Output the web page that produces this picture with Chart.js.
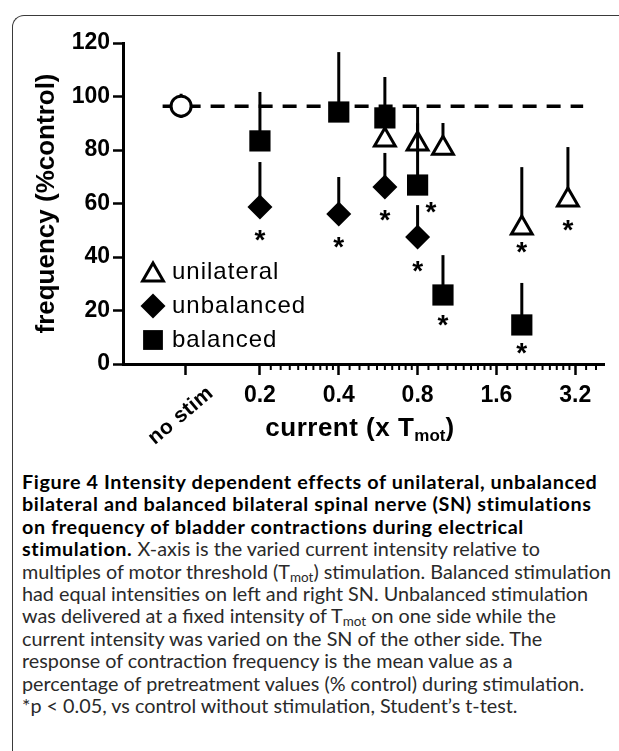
<!DOCTYPE html>
<html>
<head>
<meta charset="utf-8">
<script src="https://cdn.jsdelivr.net/npm/chart.js@4.4.1/dist/chart.umd.min.js"></script>
<style>
  html, body { margin: 0; padding: 0; background: #fff; overflow: hidden; }
  #page { position: relative; width: 619px; height: 751px; overflow: hidden; }
  #frame {
    position: absolute; left: 12px; top: 15px; width: 640px; height: 780px;
    border-left: 1.5px solid #3a3a3a; border-top: 1.5px solid #3a3a3a;
    border-top-left-radius: 12px; box-sizing: border-box;
  }
  #plot { position: absolute; left: 0; top: 0; }
  #xtitle {
    position: absolute; left: 0; width: 720px; top: 414px; text-align: center;
    font: bold 26px 'Liberation Sans', Arial, sans-serif; line-height: 26px;
    letter-spacing: 0.5px; color: #000;
  }
  #xtitle sub { font-size: 17px; vertical-align: -5px; line-height: 0; letter-spacing: 0; }
  #caption {
    position: absolute; left: 22px; top: 470px; white-space: nowrap;
    font-family: Lato, 'Open Sans', sans-serif; font-size: 19.8px; line-height: 22.4px; color: #2a2a2a;
  }
  #caption b { color: #000; letter-spacing: 0.6px; }
  #caption sub { font-size: 0.68em; vertical-align: -0.25em; line-height: 0; }
</style>
</head>
<body>
<div id="page">
  <div id="frame"></div>
  <canvas id="plot" width="619" height="450"></canvas>
  <div id="xtitle">current (x T<sub>mot</sub>)</div>
  <div id="caption">
    <b>Figure 4 Intensity dependent effects of unilateral, unbalanced</b><br>
    <b>bilateral and balanced bilateral spinal nerve (SN) stimulations</b><br>
    <b>on frequency of bladder contractions during electrical</b><br>
    <b>stimulation.</b> X-axis is the varied current intensity relative to<br>
    multiples of motor threshold (T<sub>mot</sub>) stimulation. Balanced stimulation<br>
    had equal intensities on left and right SN. Unbalanced stimulation<br>
    was delivered at a fixed intensity of T<sub>mot</sub> on one side while the<br>
    current intensity was varied on the SN of the other side. The<br>
    response of contraction frequency is the mean value as a<br>
    percentage of pretreatment values (% control) during stimulation.<br>
    *p &lt; 0.05, vs control without stimulation, Student’s t-test.
  </div>
</div>
<script>
const FONT = "'Liberation Sans', Arial, sans-serif";

// x axis (current, x Tmot) - log scale; first tick is the "no stim" control
const TICK_VALUES = [0.104, 0.2, 0.4, 0.8, 1.6, 3.2];
const TICK_LABELS = ['no stim', '0.2', '0.4', '0.8', '1.6', '3.2'];
const Y_TICKS = [0, 20, 40, 60, 80, 100, 120];

// control (no stimulation) and its reference line
const CONTROL_X = [0.1];
const CONTROL_Y = [96.4];
const CONTROL_HI = [101];
const CONTROL_LO = [92];
const REF_LINE_X = [0.085, 3.43];
const REF_LINE_Y = [96.4, 96.4];

// mean frequency (% control) and upper error bar end
const UNILATERAL_X = [0.6, 0.8, 1.0, 2.0, 3.0];
const UNILATERAL_Y = [83.7, 82.2, 80.7, 50.8, 61.3];
const UNILATERAL_HI = [90, 90, 90.1, 73.6, 81.1];

const UNBALANCED_X = [0.2, 0.4, 0.6, 0.8];
const UNBALANCED_Y = [58.7, 56.1, 66.2, 47.5];
const UNBALANCED_HI = [75.5, 69.9, 78.9, 59.4];

const BALANCED_X = [0.2, 0.4, 0.6, 0.8, 1.0, 2.0];
const BALANCED_Y = [83.4, 94.2, 92.0, 66.9, 25.8, 14.6];
const BALANCED_HI = [101.7, 116.6, 107.3, 96.1, 40.7, 30.3];

// significance markers (*p < 0.05)
const STAR_X = [0.2, 0.4, 0.6, 0.9, 0.8, 1.0, 2.0, 2.0, 3.0];
const STAR_Y = [49.0, 46.4, 56.4, 59.4, 37.4, 17.2, 44.5, 6.7, 52.7];

const toPoints = (xs, ys) => xs.map((x, i) => ({ x, y: ys[i] }));

// upper (and for control also lower) error bars, drawn just before each dataset
const errorBars = {
  id: 'errorBars',
  beforeDatasetDraw(chart, args) {
    const ds = chart.data.datasets[args.index];
    if (!ds.hi) return;
    const { ctx, scales: { x, y } } = chart;
    ctx.save();
    ctx.strokeStyle = '#000';
    ctx.lineWidth = 3;
    ds.data.forEach((p, i) => {
      const px = x.getPixelForValue(p.x);
      ctx.beginPath();
      ctx.moveTo(px, y.getPixelForValue(p.y));
      ctx.lineTo(px, y.getPixelForValue(ds.hi[i]));
      if (ds.lo) {
        ctx.moveTo(px, y.getPixelForValue(p.y));
        ctx.lineTo(px, y.getPixelForValue(ds.lo[i]));
      }
      ctx.stroke();
    });
    ctx.restore();
  }
};

// minor log ticks, rotated "no stim" label, asterisks and inset legend
const decorations = {
  id: 'decorations',
  afterDraw(chart) {
    const { ctx, chartArea, scales: { x, y } } = chart;
    ctx.save();
    ctx.strokeStyle = '#000';
    ctx.lineWidth = 2;
    const bottom = y.getPixelForValue(0);
    for (let b = 1; b < TICK_VALUES.length; b++) {
      const base = TICK_VALUES[b];
      for (let k = 1; k < 10; k++) {
        const px = x.getPixelForValue(base * (1 + k / 10));
        if (px > chartArea.right) break;
        ctx.beginPath();
        ctx.moveTo(px, bottom);
        ctx.lineTo(px, bottom + 6);
        ctx.stroke();
      }
    }

    // "no stim" label
    ctx.fillStyle = '#000';
    ctx.font = `bold 21px ${FONT}`;
    ctx.letterSpacing = '0.5px';
    ctx.translate(x.getPixelForValue(TICK_VALUES[0]) + 29, bottom + 31);
    ctx.rotate(-40 * Math.PI / 180);
    ctx.textAlign = 'right';
    ctx.textBaseline = 'alphabetic';
    ctx.fillText(TICK_LABELS[0], 0, 0);
    ctx.restore();

    // asterisks
    ctx.save();
    ctx.fillStyle = '#000';
    ctx.font = `bold 28px ${FONT}`;
    ctx.textAlign = 'center';
    ctx.textBaseline = 'alphabetic';
    STAR_X.forEach((sx, i) => {
      ctx.fillText('*', x.getPixelForValue(sx), y.getPixelForValue(STAR_Y[i]) + 16);
    });
    ctx.restore();

    // legend inside the plot
    const opts = chart.options.plugins.decorations;
    ctx.save();
    ctx.font = `24px ${FONT}`;
    ctx.letterSpacing = '1px';
    ctx.textBaseline = 'middle';
    ctx.textAlign = 'left';
    chart.data.datasets
      .filter(d => d.legendRow !== undefined)
      .sort((a, b) => a.legendRow - b.legendRow)
      .forEach((d, row) => {
        const cy = opts.legendTop + row * opts.legendGap;
        ctx.fillStyle = d.pointBackgroundColor;
        ctx.strokeStyle = '#000';
        ctx.lineWidth = d.pointBorderWidth;
        Chart.helpers.drawPoint(ctx, {
          pointStyle: d.pointStyle, radius: d.legendRadius, borderWidth: d.pointBorderWidth, rotation: 0
        }, opts.legendX, cy + (d.pointStyle === 'triangle' ? 3 : 0));
        ctx.fillStyle = '#000';
        ctx.fillText(d.label, opts.legendX + 19, cy);
      });
    ctx.restore();
  }
};

new Chart(document.getElementById('plot'), {
  type: 'scatter',
  data: {
    datasets: [
      {
        label: 'balanced',
        data: toPoints(BALANCED_X, BALANCED_Y),
        hi: BALANCED_HI,
        order: 0,
        legendRow: 2,
        pointStyle: 'rect',
        pointRadius: 15,
        legendRadius: 14,
        pointBackgroundColor: '#000',
        pointBorderColor: '#000',
        pointBorderWidth: 0
      },
      {
        label: 'unbalanced',
        data: toPoints(UNBALANCED_X, UNBALANCED_Y),
        hi: UNBALANCED_HI,
        order: 1,
        legendRow: 1,
        pointStyle: 'rectRot',
        pointRadius: 12.5,
        legendRadius: 12.5,
        pointBackgroundColor: '#000',
        pointBorderColor: '#000',
        pointBorderWidth: 0
      },
      {
        label: 'unilateral',
        data: toPoints(UNILATERAL_X, UNILATERAL_Y),
        hi: UNILATERAL_HI,
        order: 2,
        legendRow: 0,
        pointStyle: 'triangle',
        pointRadius: 12,
        legendRadius: 12,
        pointBackgroundColor: '#fff',
        pointBorderColor: '#000',
        pointBorderWidth: 3
      },
      {
        label: 'no stim',
        data: toPoints(CONTROL_X, CONTROL_Y),
        hi: CONTROL_HI,
        lo: CONTROL_LO,
        order: 3,
        pointStyle: 'circle',
        pointRadius: 10,
        pointBackgroundColor: '#fff',
        pointBorderColor: '#000',
        pointBorderWidth: 3
      },
      {
        label: 'control level',
        type: 'line',
        data: toPoints(REF_LINE_X, REF_LINE_Y),
        order: 4,
        showLine: true,
        pointRadius: 0,
        borderColor: '#000',
        borderWidth: 3.5,
        borderDash: [14, 10],
        fill: false
      }
    ]
  },
  options: {
    responsive: false,
    animation: false,
    devicePixelRatio: 1,
    layout: { padding: { left: 0, top: 43, right: 11, bottom: 0 } },
    plugins: {
      legend: { display: false },
      tooltip: { enabled: false },
      decorations: { legendX: 153, legendTop: 272, legendGap: 34 }
    },
    scales: {
      x: {
        type: 'logarithmic',
        min: 0.06,
        max: 4.12,
        afterBuildTicks: s => { s.ticks = TICK_VALUES.map(v => ({ value: v })); },
        afterFit: s => { s.height = 86; },
        border: { display: true, color: '#000', width: 3 },
        grid: { drawOnChartArea: false, drawTicks: true, tickLength: 11, tickWidth: 2.5, tickColor: '#000' },
        ticks: {
          autoSkip: false, maxRotation: 0, minRotation: 0, padding: 7, color: '#000',
          font: { family: FONT, size: 23, weight: 'bold' },
          callback: (v, i) => (i === 0 ? '' : TICK_LABELS[i])
        }
      },
      y: {
        min: 0,
        max: 120,
        afterBuildTicks: s => { s.ticks = Y_TICKS.map(v => ({ value: v })); },
        afterFit: s => { s.width = 123; },
        border: { display: true, color: '#000', width: 3 },
        grid: { drawOnChartArea: false, drawTicks: true, tickLength: 10, tickWidth: 2.5, tickColor: '#000' },
        ticks: { padding: 3, color: '#000', font: { family: FONT, size: 23, weight: 'bold' } },
        title: {
          display: true,
          text: 'frequency (%control)',
          color: '#000',
          font: { family: FONT, size: 26, weight: 'bold' },
          padding: { top: 31, bottom: 0 }
        }
      }
    }
  },
  plugins: [errorBars, decorations]
});
</script>
</body>
</html>
